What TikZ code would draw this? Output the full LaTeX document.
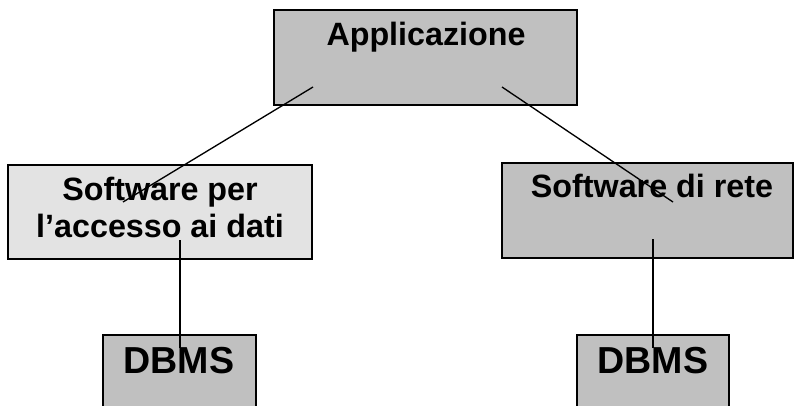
\documentclass[tikz,border=0pt]{standalone}
\usepackage{fontspec}
\setmainfont{Liberation Sans}
\definecolor{boxgray}{HTML}{C0C0C0}
\definecolor{boxlight}{HTML}{E3E3E3}
\tikzset{
  box/.style={draw=black, line width=1.4pt, inner sep=0pt, outer sep=0pt},
  lbl/.style={font=\bfseries\fontsize{24.2}{28}\selectfont, inner sep=0pt, anchor=base},
  dblbl/.style={font=\bfseries\fontsize{28.2}{32}\selectfont, inner sep=0pt, anchor=base},
  conn/.style={draw=black, line width=1pt}
}
\begin{document}
\begin{tikzpicture}[x=0.75pt,y=-0.75pt]
\useasboundingbox (0,0) rectangle (795,405);
\clip (0,0) rectangle (795,405);
% boxes
\node[box, fill=boxgray, minimum width=303*0.75pt, minimum height=95*0.75pt] (app) at (425.5,57.5) {};
\node[box, fill=boxlight, minimum width=304*0.75pt, minimum height=94*0.75pt] (sw1) at (160,212) {};
\node[box, fill=boxgray, minimum width=291*0.75pt, minimum height=95*0.75pt] (sw2) at (647.5,210.5) {};
\node[box, fill=boxgray, minimum width=153*0.75pt, minimum height=80*0.75pt] (db1) at (179.5,375) {};
\node[box, fill=boxgray, minimum width=152*0.75pt, minimum height=80*0.75pt] (db2) at (653,375) {};
% labels
\node[lbl] (tapp) at (426,45) {Applicazione};
\node[lbl] (tsw1a) at (160,200) {Software per};
\node[lbl] (tsw1b) at (160,237) {l’accesso ai dati};
\node[lbl] (tsw2) at (652,197) {Software di rete};
\node[dblbl] (tdb1) at (179,373) {DBMS};
\node[dblbl] (tdb2) at (653,373) {DBMS};
% connector ends
\coordinate (c1) at (313,87);
\coordinate (c2) at (123,202);
\coordinate (c3) at (502,87);
\coordinate (c4) at (673,202);
\coordinate (c5) at (180,240);
\coordinate (c6) at (180,348);
\coordinate (c7) at (653,239);
\coordinate (c8) at (653,348);
\draw[conn] (c1) -- (c2);
\draw[conn] (c3) -- (c4);
\draw[conn] (c5) -- (c6);
\draw[conn] (c7) -- (c8);
\end{tikzpicture}
\end{document}
